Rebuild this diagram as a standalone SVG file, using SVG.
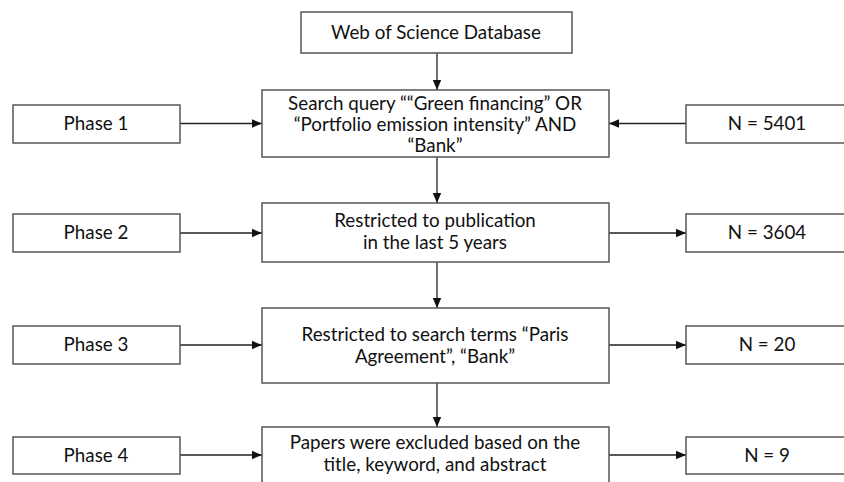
<svg xmlns="http://www.w3.org/2000/svg" width="844" height="482" viewBox="0 0 844 482">
  <style>
    .box { fill: #ffffff; stroke: #555555; stroke-width: 1.5; }
    .t { font-family: Lato, "Liberation Sans", sans-serif; font-size: 18.8px; fill: #111111; text-anchor: middle; }
    .c { stroke: #222222; stroke-width: 1.3; fill: none; marker-end: url(#ah); }
  </style>
  <defs>
    <marker id="ah" markerUnits="userSpaceOnUse" markerWidth="10" markerHeight="10" viewBox="0 0 10 10" refX="10" refY="5" orient="auto">
      <path d="M0,0.8 L10,5 L0,9.2 Z" fill="#111111"/>
    </marker>
  </defs>
  <rect width="844" height="482" fill="#ffffff"/>

  <g id="connectors">
    <line class="c" x1="437" y1="53" x2="437" y2="90"/>
    <line class="c" x1="437" y1="157" x2="437" y2="203"/>
    <line class="c" x1="437" y1="262" x2="437" y2="308"/>
    <line class="c" x1="437" y1="383" x2="437" y2="427"/>
    <line class="c" x1="180" y1="123.5" x2="262" y2="123.5"/>
    <line class="c" x1="180" y1="233" x2="262" y2="233"/>
    <line class="c" x1="180" y1="345" x2="262" y2="345"/>
    <line class="c" x1="180" y1="455" x2="262" y2="455"/>
    <line class="c" x1="686" y1="123.5" x2="609" y2="123.5"/>
    <line class="c" x1="609" y1="233" x2="686" y2="233"/>
    <line class="c" x1="609" y1="345" x2="686" y2="345"/>
    <line class="c" x1="609" y1="455" x2="686" y2="455"/>
  </g>

  <g id="wos">
    <rect class="box" x="301" y="12" width="271" height="41"/>
    <text class="t" x="436" y="39">Web of Science Database</text>
  </g>
  <g id="search">
    <rect class="box" x="262" y="90" width="347" height="67"/>
    <text class="t" x="435" y="110">Search query ““Green financing” OR</text>
    <text class="t" x="435" y="131">“Portfolio emission intensity” AND</text>
    <text class="t" x="435" y="152">“Bank”</text>
  </g>
  <g id="restrict5">
    <rect class="box" x="262" y="203" width="347" height="59"/>
    <text class="t" x="435" y="227">Restricted to publication</text>
    <text class="t" x="435" y="249">in the last 5 years</text>
  </g>
  <g id="restrictParis">
    <rect class="box" x="262" y="308" width="347" height="75"/>
    <text class="t" x="435" y="341">Restricted to search terms “Paris</text>
    <text class="t" x="435" y="363">Agreement”, “Bank”</text>
  </g>
  <g id="excluded">
    <rect class="box" x="262" y="427" width="347" height="70"/>
    <text class="t" x="435" y="449">Papers were excluded based on the</text>
    <text class="t" x="435" y="471">title, keyword, and abstract</text>
  </g>

  <g id="phase1">
    <rect class="box" x="13" y="105" width="167" height="38"/>
    <text class="t" x="96" y="130">Phase 1</text>
  </g>
  <g id="phase2">
    <rect class="box" x="13" y="214" width="167" height="38"/>
    <text class="t" x="96" y="239">Phase 2</text>
  </g>
  <g id="phase3">
    <rect class="box" x="13" y="326" width="167" height="38"/>
    <text class="t" x="96" y="351">Phase 3</text>
  </g>
  <g id="phase4">
    <rect class="box" x="13" y="437" width="167" height="37"/>
    <text class="t" x="96" y="462">Phase 4</text>
  </g>

  <g id="n5401">
    <rect class="box" x="686" y="105" width="170" height="38"/>
    <text class="t" x="767" y="130">N = 5401</text>
  </g>
  <g id="n3604">
    <rect class="box" x="686" y="214" width="170" height="38"/>
    <text class="t" x="767" y="239">N = 3604</text>
  </g>
  <g id="n20">
    <rect class="box" x="686" y="326" width="170" height="38"/>
    <text class="t" x="767" y="351">N = 20</text>
  </g>
  <g id="n9">
    <rect class="box" x="686" y="437" width="170" height="37"/>
    <text class="t" x="767" y="462">N = 9</text>
  </g>
</svg>
